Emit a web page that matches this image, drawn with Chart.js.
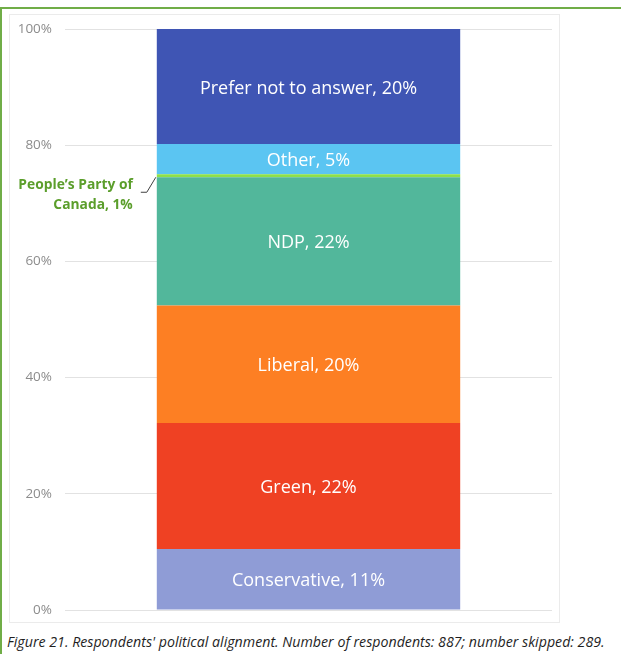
<!DOCTYPE html>
<html lang="en">
<head>
    <meta charset="UTF-8">
    <title>Figure 21 - Political alignment</title>
    <script src="https://cdn.jsdelivr.net/npm/chart.js"></script>
    <style>
        body {
            margin: 0;
            background: #ffffff;
            font-family: "Open Sans", "Noto Sans", sans-serif;
        }

        .frame {
            position: absolute;
            left: 0;
            top: 7px;
            width: 640px;
            height: 660px;
            border-left: 2px solid #70ad47;
            border-top: 2px solid #70ad47;
        }

        .chart-box {
            position: absolute;
            left: 9px;
            top: 14px;
            width: 549px;
            height: 607px;
            border: 1px solid #ebebeb;
        }

        #alignmentChart {
            display: block;
        }

        .caption {
            position: absolute;
            left: 7px;
            top: 632px;
            font-style: italic;
            font-size: 14.2px;
            color: #1f1f1f;
            white-space: nowrap;
        }
    </style>
</head>
<body>
    <div class="frame"></div>
    <div class="chart-box">
        <canvas id="alignmentChart" width="549" height="607"></canvas>
    </div>
    <div class="caption">Figure 21. Respondents' political alignment. Number of respondents: 887; number skipped: 289.</div>

    <script>
        // 数据 (bottom to top)
        const parties = ['Conservative', 'Green', 'Liberal', 'NDP', "People\u2019s Party of Canada", 'Other', 'Prefer not to answer'];
        const shares = [10.5, 21.7, 20.2, 22.1, 0.5, 5.2, 19.8];
        const colors = ['#8f9cd6', '#ef4123', '#fd7f23', '#52b79b', '#8ee04a', '#5bc5f2', '#3f55b4'];
        const yTicks = [0, 20, 40, 60, 80, 100];

        // 段内标签 + PPC 引线标签
        const segmentLabels = {
            id: 'segmentLabels',
            afterDatasetsDraw(chart) {
                const ctx = chart.ctx;
                ctx.save();
                chart.data.datasets.forEach((ds, i) => {
                    const bar = chart.getDatasetMeta(i).data[0];
                    const text = ds.label + ', ' + Math.round(ds.data[0]) + '%';
                    const left = bar.x - bar.width / 2;
                    if (ds.label.startsWith('People')) {
                        // leader line
                        ctx.strokeStyle = '#404040';
                        ctx.lineWidth = 1;
                        ctx.beginPath();
                        ctx.moveTo(left - 1, bar.y + 3);
                        ctx.lineTo(left - 10, bar.y + 18);
                        ctx.lineTo(left - 16, bar.y + 18);
                        ctx.stroke();
                        ctx.fillStyle = '#5b9e2b';
                        ctx.font = 'bold 13.8px "Open Sans", sans-serif';
                        ctx.textAlign = 'right';
                        ctx.textBaseline = 'middle';
                        ctx.fillText('People\u2019s Party of', left - 24, bar.y + 11);
                        ctx.fillText('Canada, ' + Math.round(ds.data[0]) + '%', left - 24, bar.y + 31);
                        return;
                    }
                    ctx.fillStyle = '#ffffff';
                    ctx.font = '18px "Open Sans", sans-serif';
                    ctx.textAlign = 'center';
                    ctx.textBaseline = 'middle';
                    ctx.fillText(text, bar.x, (bar.y + bar.base) / 2 + 2);
                });
                ctx.restore();
            }
        };

        const ctx = document.getElementById('alignmentChart').getContext('2d');
        new Chart(ctx, {
            type: 'bar',
            data: {
                labels: ['Respondents'],
                datasets: parties.map((p, i) => ({
                    label: p,
                    data: [shares[i]],
                    backgroundColor: colors[i],
                    borderWidth: 0,
                    categoryPercentage: 1,
                    barPercentage: 0.623
                }))
            },
            options: {
                responsive: false,
                animation: false,
                devicePixelRatio: 1,
                layout: {
                    padding: { top: 14, right: 7, bottom: 12, left: 0 }
                },
                plugins: {
                    legend: { display: false },
                    tooltip: { enabled: false }
                },
                scales: {
                    x: {
                        stacked: true,
                        display: false
                    },
                    y: {
                        stacked: true,
                        min: 0,
                        max: 100,
                        afterBuildTicks(axis) {
                            axis.ticks = yTicks.map(v => ({ value: v }));
                        },
                        afterFit(axis) {
                            axis.width = 55;
                            // tick padding would otherwise push the plot area in
                            axis.paddingTop = 0;
                            axis.paddingBottom = 0;
                        },
                        border: { display: false },
                        grid: {
                            color: '#e2e2e2',
                            lineWidth: 1,
                            drawTicks: false
                        },
                        ticks: {
                            padding: 13,
                            color: '#8c8c8c',
                            font: { family: '"Open Sans", sans-serif', size: 13.5 },
                            callback: v => v + '%'
                        }
                    }
                }
            },
            plugins: [segmentLabels]
        });
    </script>
</body>
</html>
